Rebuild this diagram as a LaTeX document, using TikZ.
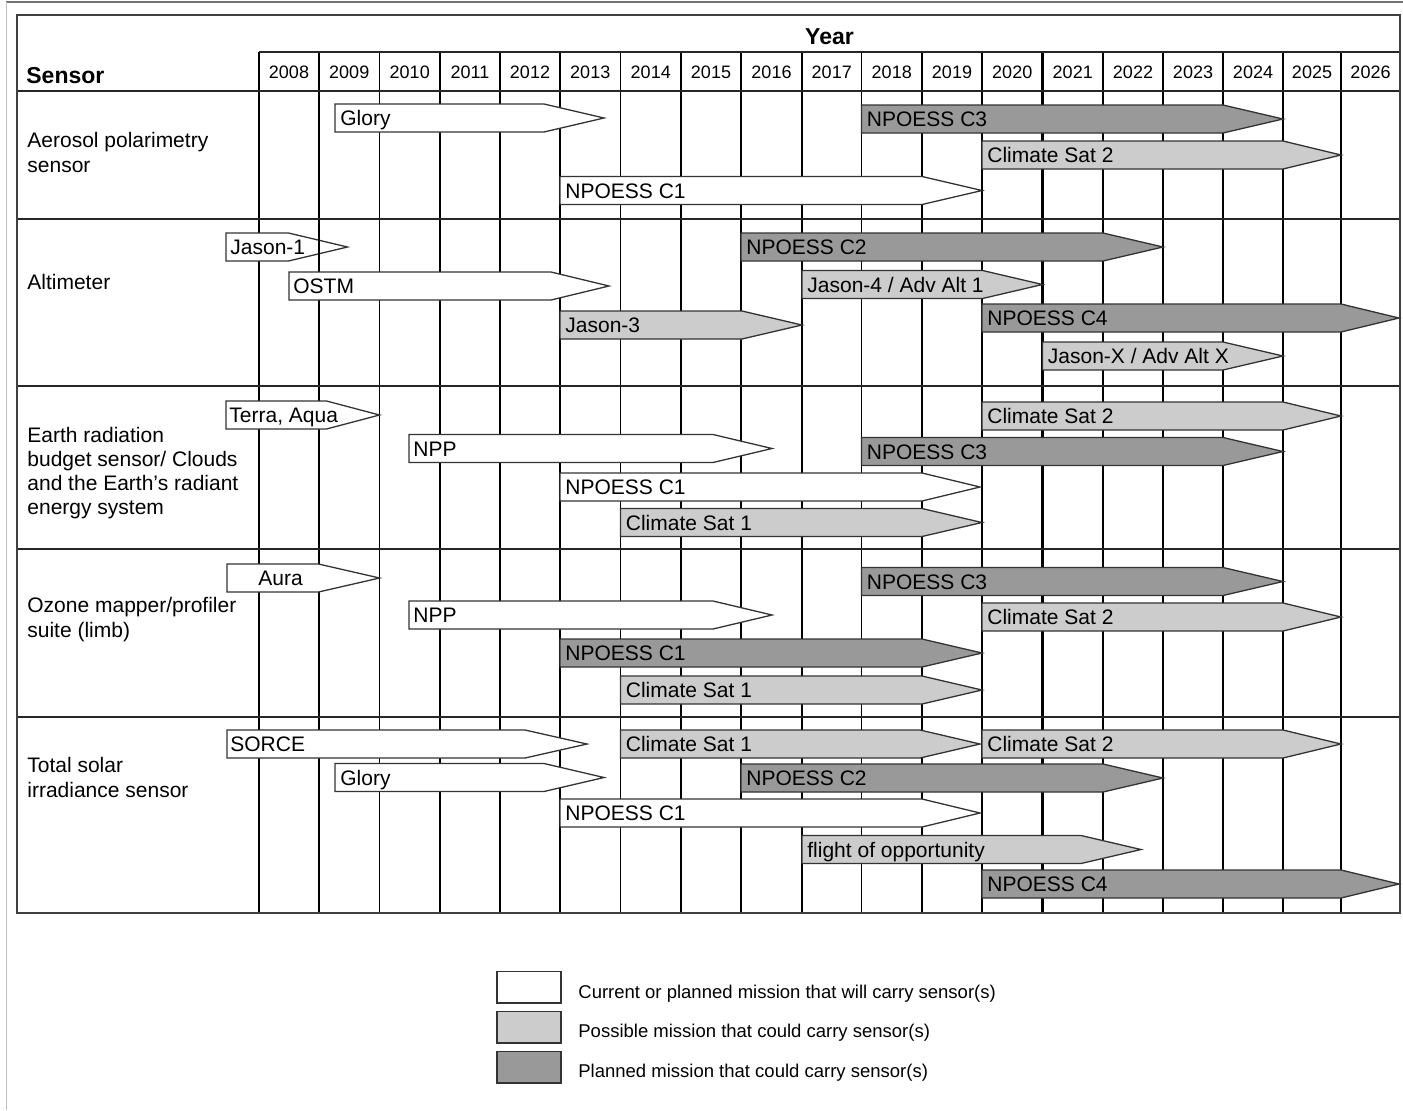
\documentclass[tikz,border=0pt]{standalone}
\usepackage{fontspec}
\setmainfont{Liberation Sans}
\definecolor{lightfill}{HTML}{CCCCCC}
\definecolor{darkfill}{HTML}{999999}
\definecolor{edgecol}{HTML}{333333}
\newcommand\mission[8][5]{% #1 text offset, #2 style, #3 x0, #4 xtip, #5 head, #6 yc, #7 name, #8 text
  \draw[#2] (#3,#6-14) -- (#4-#5,#6-14) -- (#4,#6) -- (#4-#5,#6+14) -- (#3,#6+14) -- cycle;
  \node[lbl] (#7) at (#3+#1,#6+7.5) {#8};
}
\begin{document}
\begin{tikzpicture}[x=0.5pt,y=-0.5pt,
  gridthin/.style={line width=0.6pt,draw=black},
  gridthick/.style={line width=1.3pt,draw=black},
  rowline/.style={line width=0.7pt,draw=black!85},
  frame/.style={line width=1.1pt,draw=black!75},
  barW/.style={fill=white,draw=edgecol,line width=0.65pt},
  barL/.style={fill=lightfill,draw=edgecol,line width=0.65pt},
  barD/.style={fill=darkfill,draw=edgecol,line width=0.65pt},
  legbox/.style={draw=edgecol,line width=0.9pt},
  lbl/.style={anchor=base west,inner sep=0pt,font=\fontsize{10.5}{12}\selectfont},
  yr/.style={anchor=base,inner sep=0pt,font=\fontsize{9}{10}\selectfont},
  rowlbl/.style={anchor=base west,inner sep=0pt,font=\fontsize{10.5}{12}\selectfont},
  head/.style={inner sep=0pt,font=\bfseries\fontsize{11.5}{13}\selectfont},
  leg/.style={anchor=base west,inner sep=0pt,font=\fontsize{9.25}{11}\selectfont}
]
\useasboundingbox (0,0) rectangle (1403,1110);
\fill[white] (0,0) rectangle (1403,1110);
% outer screenshot frame
\draw[line width=0.75pt,draw=black!55] (6,2) -- (1403,2);
\draw[line width=0.75pt,draw=black!25] (6.5,2) -- (6.5,1110);

% grid
\foreach \x/\w in {259/gridthin, 319/gridthick, 379.5/gridthin, 440/gridthick, 500/gridthin, 560/gridthick, 620.5/gridthin, 681/gridthick, 741/gridthin, 802/gridthick, 861.5/gridthin, 922/gridthick, 982/gridthin, 1042.5/gridthick, 1103/gridthin, 1163/gridthick, 1223/gridthin, 1283/gridthick, 1341/gridthin}
  \draw[\w] (\x,52) -- (\x,913);
\draw[rowline] (259,52) -- (1400,52);
\foreach \y in {91,219,386,549,717}
  \draw[rowline] (17,\y) -- (1400,\y);

% headers
\node[head,anchor=base] (yearhd) at (829.5,44) {Year};
\node[head,anchor=base west] (sensorhd) at (26,83) {Sensor};
\foreach \c/\t in {289/2008, 349.25/2009, 409.75/2010, 470/2011, 530/2012, 590.25/2013, 650.75/2014, 711/2015, 771.5/2016, 831.75/2017, 891.75/2018, 952/2019, 1012.25/2020, 1072.75/2021, 1133/2022, 1193/2023, 1253/2024, 1312/2025, 1370.5/2026}
  \node[yr] (y\t) at (\c,78.5) {\t};

% row labels
\node[rowlbl] (r1a) at (27,147.5) {Aerosol polarimetry};
\node[rowlbl] (r1b) at (27,172) {sensor};
\node[rowlbl] (r2a) at (27,289.5) {Altimeter};
\node[rowlbl] (r3a) at (27,442) {Earth radiation};
\node[rowlbl] (r3b) at (27,466.5) {budget sensor/ Clouds};
\node[rowlbl] (r3c) at (27,490.5) {and the Earth's radiant};
\node[rowlbl] (r3d) at (27,514.5) {energy system};
\node[rowlbl] (r4a) at (27,612.5) {Ozone mapper/profiler};
\node[rowlbl] (r4b) at (27,637) {suite (limb)};
\node[rowlbl] (r5a) at (27,772.5) {Total solar};
\node[rowlbl] (r5b) at (27,797.5) {irradiance sensor};

% row 1: aerosol
\mission{barW}{335}{604}{60}{118}{m1a}{Glory}
\mission{barD}{861.5}{1283}{60}{119}{m1b}{NPOESS C3}
\mission{barL}{982}{1341}{58}{155}{m1c}{Climate Sat 2}
\mission{barW}{560}{982}{60}{190.5}{m1d}{NPOESS C1}

% row 2: altimeter
\mission[4]{barW}{226}{347.5}{59}{247}{m2a}{Jason-1}
\draw[gridthick] (319,233.5) -- (319,260.5);
\mission{barD}{741}{1163}{60}{247}{m2b}{NPOESS C2}
\mission[4]{barW}{289}{609}{58}{286}{m2c}{OSTM}
\mission{barL}{802}{1042.5}{60}{284.5}{m2d}{Jason-4 / Adv Alt 1}
\mission{barL}{560}{802}{60}{325}{m2e}{Jason-3}
\mission{barD}{982}{1399}{58}{318}{m2f}{NPOESS C4}
\mission{barL}{1042.5}{1283}{60}{356}{m2g}{Jason-X / Adv Alt X}

% row 3: earth radiation
\mission[3]{barW}{226}{379.5}{53}{415}{m3a}{Terra, Aqua}
\mission{barL}{982}{1341}{58}{416}{m3b}{Climate Sat 2}
\mission[4]{barW}{409}{772}{59}{448.5}{m3c}{NPP}
\mission{barD}{861.5}{1283}{60}{451.5}{m3d}{NPOESS C3}
\mission{barW}{560}{980}{58}{487}{m3e}{NPOESS C1}
\mission{barL}{620.5}{982}{60}{522.5}{m3f}{Climate Sat 1}

% row 4: ozone
\mission[31]{barW}{227}{379.5}{61}{578}{m4a}{Aura}
\mission{barD}{861.5}{1283}{60}{581.5}{m4b}{NPOESS C3}
\mission[4]{barW}{409}{772}{59}{615}{m4c}{NPP}
\mission{barL}{982}{1341}{58}{617}{m4d}{Climate Sat 2}
\mission{barD}{560}{982}{60}{653}{m4e}{NPOESS C1}
\mission{barL}{620.5}{982}{60}{690}{m4f}{Climate Sat 1}

% row 5: total solar irradiance
\mission[3]{barW}{227}{587}{62}{744}{m5a}{SORCE}
\mission{barL}{620.5}{980}{60}{744}{m5b}{Climate Sat 1}
\mission{barL}{982}{1341}{58}{744}{m5c}{Climate Sat 2}
\mission{barW}{335}{604}{60}{777.5}{m5d}{Glory}
\mission{barD}{741}{1163}{60}{778}{m5e}{NPOESS C2}
\mission{barW}{560}{980}{58}{813}{m5f}{NPOESS C1}
\mission{barL}{802}{1141}{60}{849.5}{m5g}{flight of opportunity}
\mission{barD}{982}{1399}{58}{884}{m5h}{NPOESS C4}

% table border
\draw[frame] (17,15) rectangle (1400,913);

% legend
\draw[legbox,fill=white] (497,971.5) rectangle (561,1003);
\draw[legbox,fill=lightfill] (497,1011.5) rectangle (561,1043);
\draw[legbox,fill=darkfill] (497,1051.5) rectangle (561,1083);
\node[leg] (l1) at (578,998) {Current or planned mission that will carry sensor(s)};
\node[leg] (l2) at (578,1037.5) {Possible mission that could carry sensor(s)};
\node[leg] (l3) at (578,1077) {Planned mission that could carry sensor(s)};
\end{tikzpicture}
\end{document}
